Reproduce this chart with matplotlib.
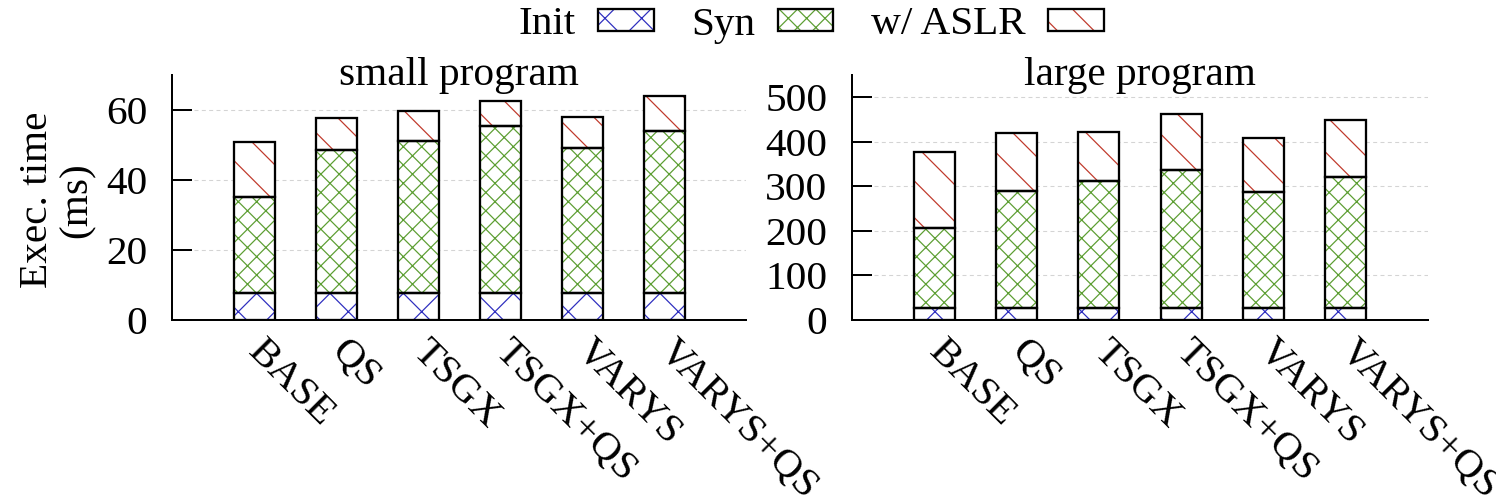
import matplotlib
matplotlib.use("Agg")
import matplotlib.pyplot as plt
from matplotlib.patches import Patch
from matplotlib.legend_handler import HandlerTuple
import numpy as np

# ---- data ----
categories = ["BASE", "QS", "TSGX", "TSGX+QS", "VARYS", "VARYS+QS"]
series_names = ["Init", "Syn", "w/ ASLR"]

small_init = [7.8, 7.8, 7.8, 7.8, 7.8, 7.8]
small_syn = [27.4, 40.8, 43.4, 47.5, 41.3, 46.3]
small_aslr = [15.6, 9.0, 8.5, 7.2, 9.0, 9.9]

large_init = [26, 26, 26, 26, 26, 26]
large_syn = [181, 263, 285, 311, 261, 295]
large_aslr = [170, 130, 111, 125, 122, 128]

small_ticks = [0, 20, 40, 60]
large_ticks = [0, 100, 200, 300, 400, 500]

# ---- style ----
DPI = 220
plt.rcParams['font.family'] = ['Liberation Serif', 'DejaVu Serif']
plt.rcParams['hatch.linewidth'] = 0.4
plt.rcParams['lines.scale_dashes'] = False
FS = 13.5

hatch_colors = ['#2e2ebf', '#5c9e32', '#c0392b']
hatches = ['xx', 'xxxx', '\\\\']

fig = plt.figure(figsize=(1496 / DPI, 502 / DPI), dpi=DPI)
W, H = 1496.0, 502.0
ax1 = fig.add_axes([172 / W, (H - 320) / H, 574 / W, 245 / H])
ax2 = fig.add_axes([852 / W, (H - 320) / H, 576 / W, 245 / H])


def draw(ax, segs, ylim, ticks, title):
    x = np.arange(len(categories))
    bottom = np.zeros(len(categories))
    for vals, hc, ht in zip(segs, hatch_colors, hatches):
        vals = np.asarray(vals, dtype=float)
        ax.bar(x, vals, width=0.5, bottom=bottom, facecolor='white',
               edgecolor=hc, linewidth=0, hatch=ht, zorder=2)
        ax.bar(x, vals, width=0.5, bottom=bottom, facecolor='none',
               edgecolor='black', linewidth=0.75, zorder=3)
        bottom = bottom + vals
    ax.set_xlim(-1, 6)
    ax.set_ylim(0, ylim)
    ax.set_yticks(ticks)
    ax.set_xticks(x)
    ax.set_xticklabels(categories, rotation=-45, ha='left', va='center',
                       rotation_mode='anchor', fontsize=FS)
    ax.tick_params(axis='x', length=0, pad=8.5)
    ax.tick_params(axis='y', direction='in', length=6.5, width=0.65,
                   pad=8, labelsize=FS)
    for s in ['top', 'right']:
        ax.spines[s].set_visible(False)
    for s in ['left', 'bottom']:
        ax.spines[s].set_linewidth(0.65)
    ax.set_axisbelow(True)
    ax.yaxis.grid(True, color='#d4d4d4', linewidth=0.35,
                  linestyle=(0, (1.3, 1.1)), zorder=0)
    ax.text(0.5, 1.0, title, transform=ax.transAxes, ha='center',
            va='center', fontsize=FS)


draw(ax1, [small_init, small_syn, small_aslr], 70, small_ticks, 'small program')
draw(ax2, [large_init, large_syn, large_aslr], 550, large_ticks, 'large program')

fig.text(57 / W, 1 - 200 / H, 'Exec. time\n(ms)', rotation=90, ha='center',
         va='center', multialignment='center', fontsize=FS, linespacing=1.1)

handles = []
for hc, ht in zip(hatch_colors, hatches):
    p1 = Patch(facecolor='white', edgecolor=hc, linewidth=0, hatch=ht)
    p2 = Patch(facecolor='none', edgecolor='black', linewidth=0.75)
    handles.append((p1, p2))

fig.legend(handles, series_names, loc='center',
           bbox_to_anchor=(811 / W, 1 - 25 / H), ncol=3, frameon=False,
           markerfirst=False, fontsize=FS, handlelength=1.35,
           handleheight=0.45, handletextpad=0.55, columnspacing=0.9,
           handler_map={tuple: HandlerTuple(ndivide=1, pad=0)})

fig.savefig('out.png', dpi=DPI)
